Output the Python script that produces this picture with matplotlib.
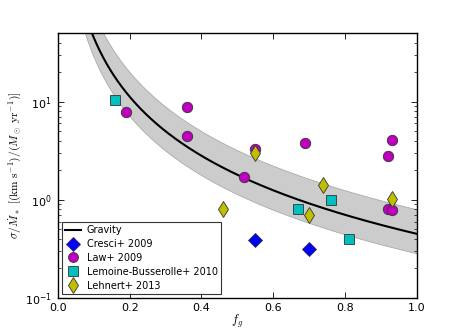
import numpy as np
import matplotlib
matplotlib.use("Agg")
import matplotlib.pyplot as plt

# gravity model: sigma/Mdot = A / f_g^2, band between A_LO and A_HI
A_MID, A_LO, A_HI = 0.45, 0.285, 0.80

cresci_f = [0.55, 0.70]
cresci_y = [0.39, 0.315]

law_f = [0.19, 0.36, 0.36, 0.55, 0.69, 0.93, 0.92, 0.52, 0.92, 0.93]
law_y = [7.8, 8.9, 4.45, 3.33, 3.83, 4.07, 2.82, 1.72, 0.80, 0.79]

lemoine_f = [0.16, 0.67, 0.76, 0.81]
lemoine_y = [10.3, 0.80, 1.0, 0.40]

lehnert_f = [0.46, 0.55, 0.74, 0.70, 0.93]
lehnert_y = [0.80, 3.03, 1.40, 0.70, 1.02]

plt.rcParams["font.size"] = 8
plt.rcParams["xtick.direction"] = "in"
plt.rcParams["ytick.direction"] = "in"

fig = plt.figure(figsize=(4.63, 3.31), dpi=100)
ax = fig.add_axes([0.125, 0.1, 0.775, 0.8])

fg = np.linspace(0.05, 1.0, 400)
ax.fill_between(fg, A_LO / fg**2, A_HI / fg**2, facecolor="#cccccc",
                edgecolor="#aaaaaa", linewidth=0.6, zorder=1)
ax.plot(fg, A_MID / fg**2, color="k", lw=1.5, label="Gravity", zorder=2)

mk = dict(linestyle="none", markeredgecolor="#333333", markeredgewidth=0.6, zorder=3)
ax.plot(cresci_f, cresci_y, marker="D", color="b", markersize=7, label="Cresci+ 2009", **mk)
ax.plot(law_f, law_y, marker="o", color="m", markersize=7.5, label="Law+ 2009", **mk)
ax.plot(lemoine_f, lemoine_y, marker="s", color="c", markersize=7, label="Lemoine-Busserolle+ 2010", **mk)
ax.plot(lehnert_f, lehnert_y, marker="d", color="y", markersize=8.5, label="Lehnert+ 2013", **mk)

ax.set_yscale("log")
ax.set_xlim(0, 1)
ax.set_ylim(0.1, 50)
ax.set_xticks([0.0, 0.2, 0.4, 0.6, 0.8, 1.0])
ax.tick_params(which="both", top=True, right=True)
ax.tick_params(which="major", length=4, width=0.6)
ax.tick_params(which="minor", length=2, width=0.5)
ax.tick_params(axis="x", pad=4)
ax.tick_params(axis="y", pad=4.5)
for s in ax.spines.values():
    s.set_linewidth(1.0)

ax.set_xlabel(r"$f_g$", math_fontfamily="cm", fontsize=9, labelpad=0)
ax.set_ylabel(r"$\sigma/\dot{M}_*\ [(\mathrm{km\ s}^{-1})/(M_\odot\ \mathrm{yr}^{-1})]$",
              math_fontfamily="cm", fontsize=8.3, labelpad=1)

leg = ax.legend(loc="lower left", numpoints=1, fancybox=False, fontsize=7,
                borderaxespad=0.4, handlelength=1.6, handletextpad=0.6,
                labelspacing=0.4, borderpad=0.35, markerscale=0.95)
leg.get_frame().set_edgecolor("k")
leg.get_frame().set_linewidth(0.8)

fig.savefig("out.png", dpi=100)
